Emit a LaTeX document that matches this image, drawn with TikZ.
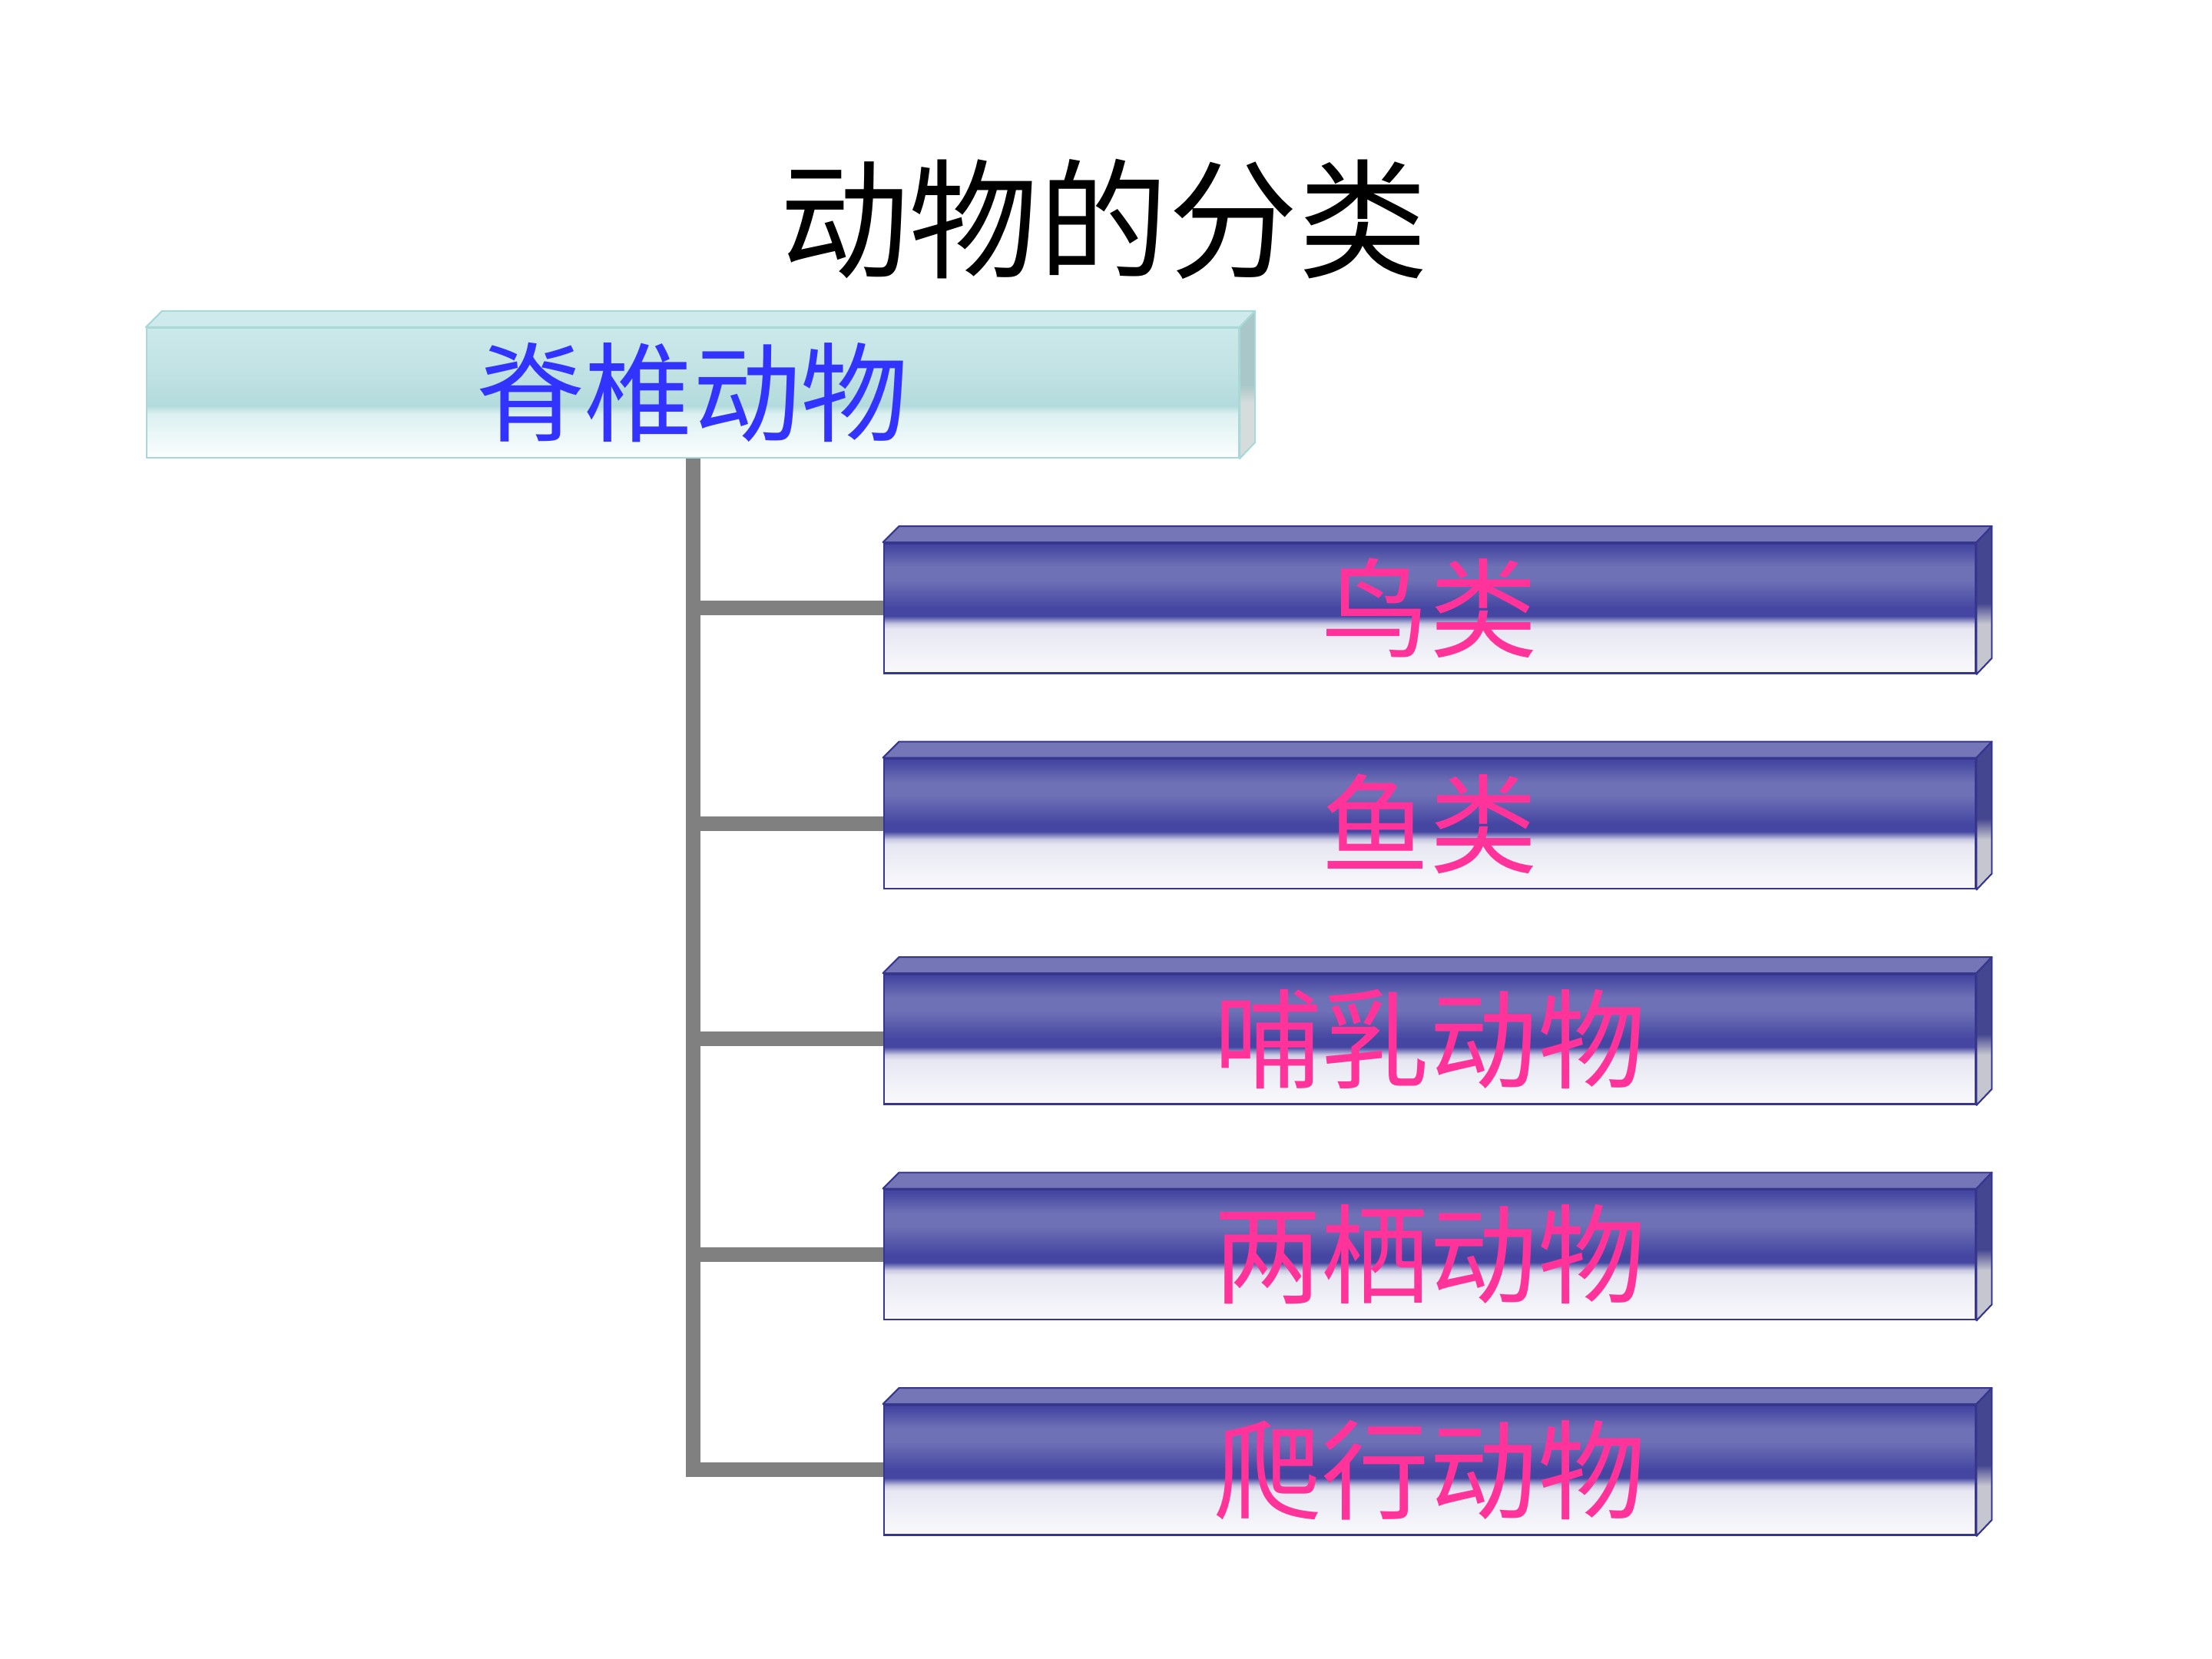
\documentclass[tikz,border=0pt]{standalone}
\usepackage{fontspec}
\usepackage{xcolor}
\newfontfamily\cjk{Noto Sans CJK SC}
\usetikzlibrary{positioning, calc}
\definecolor{ink}{HTML}{000000}
\definecolor{linkgrey}{HTML}{808080}
\definecolor{roottext}{HTML}{3333FF}
\definecolor{leaftext}{HTML}{FF3399}
% pale top box
\definecolor{rootline}{HTML}{A8D8D8}
\definecolor{rootcap}{HTML}{CFEAEC}
\definecolor{roottop}{HTML}{CBE8EA}
\definecolor{rootmid}{HTML}{C3E3E5}
\definecolor{rootdeep}{HTML}{B3DBDD}
\definecolor{rootfade}{HTML}{DCF0F1}
\definecolor{rootwhite}{HTML}{FBFEFE}
\definecolor{rootsidetop}{HTML}{A9C7C8}
\definecolor{rootsidelow}{HTML}{D6DBDB}
% blue boxes
\definecolor{barline}{HTML}{36368F}
\definecolor{barcap}{HTML}{7476B8}
\definecolor{bardeep}{HTML}{4446A2}
\definecolor{barlight}{HTML}{6F71B6}
\definecolor{barmist}{HTML}{C9C9E3}
\definecolor{barpale}{HTML}{E7E7F3}
\definecolor{barwhite}{HTML}{F9F9FC}
\definecolor{barsidetop}{HTML}{44468F}
\definecolor{barsidelow}{HTML}{C6C6D0}

\pgfdeclareverticalshading{rootfront}{100bp}{color(0bp)=(rootwhite); color(25bp)=(rootwhite);
  color(42bp)=(rootfade); color(45bp)=(rootdeep); color(60bp)=(rootmid); color(75bp)=(roottop); color(100bp)=(roottop)}
\pgfdeclareverticalshading{barfront}{100bp}{color(0bp)=(barwhite); color(25bp)=(barwhite);
  color(42bp)=(barpale); color(44bp)=(barmist); color(47bp)=(bardeep); color(50bp)=(bardeep);
  color(61bp)=(barlight); color(66bp)=(barlight); color(74bp)=(bardeep); color(100bp)=(bardeep)}
\pgfdeclareverticalshading{rootside}{100bp}{color(0bp)=(rootsidelow); color(25bp)=(rootsidelow);
  color(44bp)=(rootsidelow); color(50bp)=(rootsidetop); color(100bp)=(rootsidetop)}
\pgfdeclareverticalshading{barside}{100bp}{color(0bp)=(barsidelow); color(25bp)=(barsidelow);
  color(42bp)=(barsidelow); color(49bp)=(barsidetop); color(100bp)=(barsidetop)}

\begin{document}
\begin{tikzpicture}[font=\cjk,
  rootbox/.style={rectangle, draw=rootline, line width=0.6pt, shade, shading=rootfront, minimum width=14.22cm, minimum height=1.69cm, inner sep=0pt, text=roottext, font=\cjk\fontsize{40}{40}\selectfont},
  leafbox/.style={rectangle, draw=barline, line width=0.8pt, shade, shading=barfront, minimum width=14.21cm, minimum height=1.69cm, inner sep=0pt, text=leaftext, font=\cjk\fontsize{40}{40}\selectfont},
  link/.style={draw=linkgrey, line width=0.19cm}
]
  \useasboundingbox (0,0) rectangle (28.8,21.6);
  \fill[white] (0,0) rectangle (28.8,21.6);

  \node[ink, font=\cjk\fontsize{48}{48}\selectfont] (title) at (14.37,18.75) {动物的分类};

  \node[rootbox] (root) at (9.02,16.485) {脊椎动物};
  \node[leafbox] (c1) at (18.615,13.68) {鸟类};
  \node[leafbox] (c2) at (18.615,10.875) {鱼类};
  \node[leafbox] (c3) at (18.615,8.07) {哺乳动物};
  \node[leafbox] (c4) at (18.615,5.265) {两栖动物};
  \node[leafbox] (c5) at (18.615,2.46) {爬行动物};

  % top and side faces
  \foreach \n/\cap/\ln/\sd in {root/rootcap/rootline/rootside, c1/barcap/barline/barside,
      c2/barcap/barline/barside, c3/barcap/barline/barside, c4/barcap/barline/barside, c5/barcap/barline/barside} {
    \filldraw[fill=\cap, draw=\ln, line width=0.6pt, line join=round]
      (\n.north west) -- ++(0.21,0.21) -- ($(\n.north east)+(0.2,0.21)$) -- (\n.north east) -- cycle;
    \shade[shading=\sd] (\n.north east) -- ++(0.2,0.21) -- ($(\n.south east)+(0.2,0.21)$) -- (\n.south east) -- cycle;
    \draw[\ln, line width=0.6pt, line join=round]
      (\n.north east) -- ++(0.2,0.21) -- ($(\n.south east)+(0.2,0.21)$) -- (\n.south east) -- cycle;
  }

  \foreach \i in {1,...,5}
    \draw[link] (root.south) |- (c\i.west);
\end{tikzpicture}
\end{document}
